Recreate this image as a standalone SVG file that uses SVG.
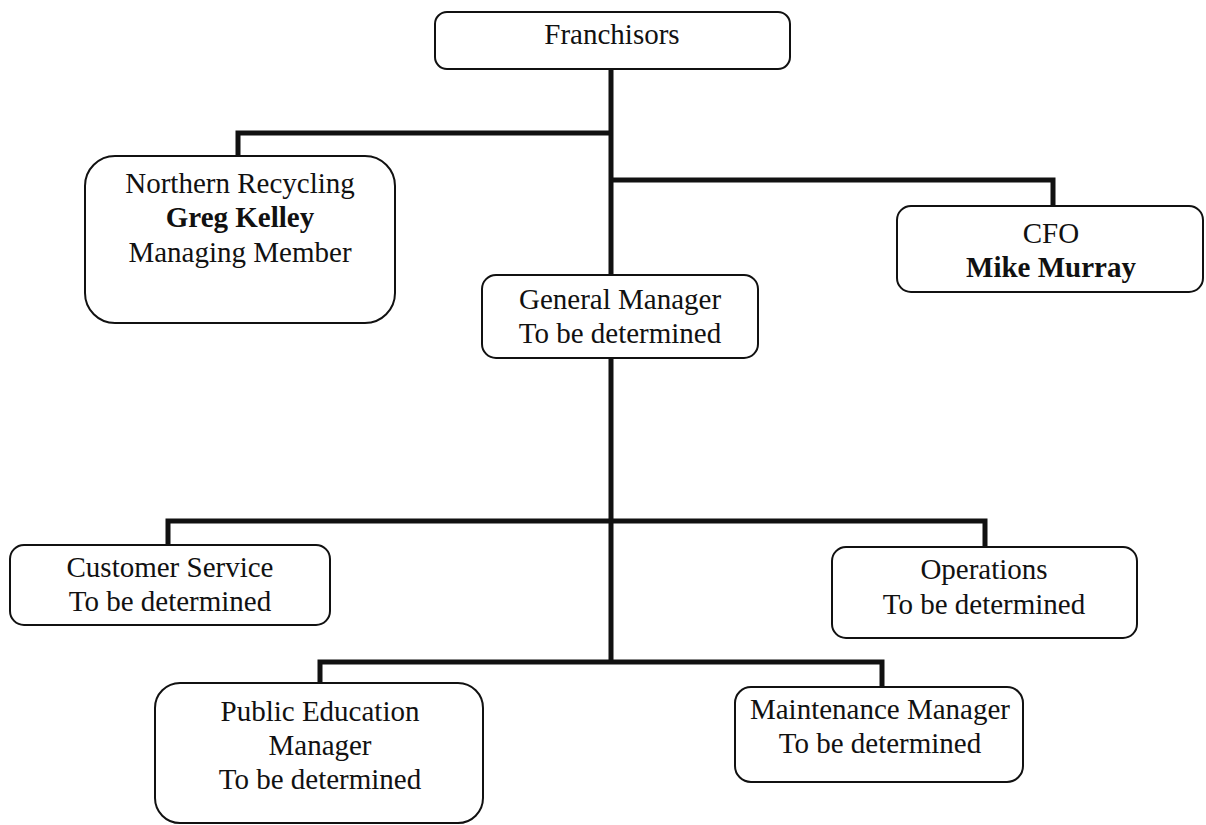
<svg xmlns="http://www.w3.org/2000/svg" width="1206" height="825" viewBox="0 0 1206 825">
<style>
.box{fill:#fff;stroke:#111;stroke-width:2}
.conn{fill:none;stroke:#111;stroke-width:5;stroke-linejoin:miter}
text{font-family:"Liberation Serif","DejaVu Serif",serif;font-size:29px;fill:#111;text-anchor:middle}
.b{font-weight:bold}
</style>
<rect width="1206" height="825" fill="#fff"/>
<g id="connectors">
<path class="conn" d="M611,69 V663"/>
<path class="conn" d="M611,133 H238 V157"/>
<path class="conn" d="M611,180 H1053 V206"/>
<path class="conn" d="M168,545 V521 H985 V547"/>
<path class="conn" d="M320,683 V662 H882 V687"/>
</g>
<g id="franchisors">
<rect class="box" x="435" y="12" width="355" height="57" rx="12"/>
<text x="612" y="44">Franchisors</text>
</g>
<g id="northern">
<rect class="box" x="85" y="156" width="310" height="167" rx="30"/>
<text x="240" y="193">Northern Recycling</text>
<text x="240" y="227" class="b">Greg Kelley</text>
<text x="240" y="262">Managing Member</text>
</g>
<g id="cfo">
<rect class="box" x="897" y="206" width="306" height="86" rx="14"/>
<text x="1051" y="243">CFO</text>
<text x="1051" y="277" class="b">Mike Murray</text>
</g>
<g id="general-manager">
<rect class="box" x="482" y="275" width="276" height="83" rx="14"/>
<text x="620" y="309">General Manager</text>
<text x="620" y="343">To be determined</text>
</g>
<g id="customer-service">
<rect class="box" x="10" y="545" width="320" height="80" rx="14"/>
<text x="170" y="577">Customer Service</text>
<text x="170" y="611">To be determined</text>
</g>
<g id="operations">
<rect class="box" x="832" y="547" width="305" height="91" rx="14"/>
<text x="984" y="579">Operations</text>
<text x="984" y="614">To be determined</text>
</g>
<g id="public-education">
<rect class="box" x="155" y="683" width="328" height="140" rx="25"/>
<text x="320" y="721">Public Education</text>
<text x="320" y="755">Manager</text>
<text x="320" y="789">To be determined</text>
</g>
<g id="maintenance">
<rect class="box" x="735" y="687" width="288" height="95" rx="16"/>
<text x="880" y="719">Maintenance Manager</text>
<text x="880" y="753">To be determined</text>
</g>
</svg>
